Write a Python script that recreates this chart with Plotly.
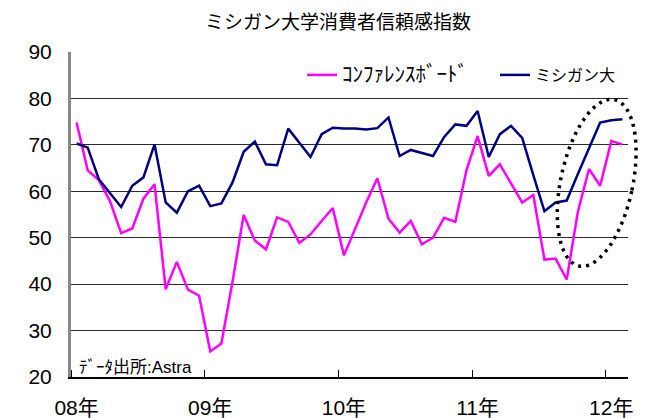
import math
import plotly.graph_objects as go

# ---- data ----
months = [f"{y}-{m:02d}" for y in range(2008, 2013) for m in range(1, 13)][:50]
conference_board = [74.8, 64.5, 62.4, 57.9, 51.0, 52.0, 58.4, 61.5, 38.9, 44.8,
                    38.8, 37.5, 25.5, 27.2, 40.5, 54.9, 49.4, 47.5, 54.4, 53.4,
                    48.9, 50.7, 53.6, 56.4, 46.2, 52.0, 57.6, 62.8, 54.1, 51.1,
                    53.6, 48.6, 50.0, 54.3, 53.4, 64.5, 71.9, 63.3, 65.8, 61.7,
                    57.6, 59.2, 45.3, 45.5, 41.0, 55.6, 64.8, 61.2, 70.8, 70.1]
michigan = [70.3, 69.4, 62.6, 59.5, 56.6, 61.2, 63.0, 70.1, 57.6, 55.4,
            60.0, 61.2, 56.8, 57.4, 61.9, 68.5, 70.7, 65.8, 65.6, 73.5,
            70.5, 67.4, 72.3, 73.7, 73.5, 73.5, 73.3, 73.6, 75.9, 67.6,
            68.9, 68.2, 67.6, 71.7, 74.4, 74.1, 77.3, 67.4, 72.3, 74.1,
            71.5, 63.5, 55.7, 57.6, 58.0, 63.7, 69.2, 74.8, 75.3, 75.5]
year_ticks = [0, 12, 24, 36, 48]
year_labels = ["08年", "09年", "10年", "11年", "12年"]
year_bounds = [-0.5, 11.5, 23.5, 35.5, 47.5]
series_names = ["ｺﾝﾌｧﾚﾝｽﾎﾞｰﾄﾞ", "ミシガン大"]

x = list(range(len(months)))
FONT = "Liberation Sans, Arial, Noto Sans CJK JP"

OFF = 8  # page body margin offset of the figure
W, H = 652 - OFF, 418 - OFF
# plot area in page pixels: left 71, right 628, top 52, bottom 377
ML, MT = 71 - OFF, 52 - OFF
MR, MB = W - (628 - OFF), H - (377 - OFF)
PW, PH = W - ML - MR, H - MT - MB


def paper_x(px):
    return (px - OFF - ML) / PW


def paper_y(py):
    return (H - MB - (py - OFF)) / PH


fig = go.Figure()
fig.add_trace(go.Scatter(x=x, y=conference_board, mode="lines",
                         name=f'<span style="font-size:21px">{series_names[0]}</span>',
                         line=dict(color="#FF00FF", width=2.5)))
fig.add_trace(go.Scatter(x=x, y=michigan, mode="lines", name=series_names[1],
                         line=dict(color="#000080", width=2.5)))

# dotted tilted ellipse highlighting the latest months (page-pixel geometry -> paper coords)
cx, cy, a, b, th = 596.7, 182.8, 85.0, 36.0, math.radians(12)
pts = []
for k in range(121):
    t = 2 * math.pi * k / 120
    ux, uy = b * math.cos(t), a * math.sin(t)
    px = cx + ux * math.cos(th) + uy * math.sin(th)
    py = cy + ux * math.sin(th) - uy * math.cos(th)
    pts.append((paper_x(px), paper_y(py)))
path = "M " + " L ".join(f"{u:.5f},{v:.5f}" for u, v in pts) + " Z"
fig.add_shape(type="path", path=path, xref="paper", yref="paper",
              line=dict(color="black", width=3.5, dash="3px,5px"))

fig.add_annotation(text="ﾃﾞｰﾀ出所:Astra", xref="paper", yref="paper",
                   x=paper_x(77), y=paper_y(367), xanchor="left", yanchor="middle",
                   showarrow=False, font=dict(family=FONT, size=17, color="black"))

fig.update_layout(
    width=W, height=H,
    margin=dict(l=ML, r=MR, t=MT, b=MB, pad=0, autoexpand=False),
    paper_bgcolor="white", plot_bgcolor="white",
    title=dict(text="ミシガン大学消費者信頼感指数", x=(338 - OFF) / W, xref="container",
               xanchor="center", y=1 - (22 - OFF) / H, yref="container", yanchor="middle",
               font=dict(family=FONT, size=19, color="black")),
    showlegend=True,
    legend=dict(orientation="h", x=paper_x(302), y=paper_y(75),
                xanchor="left", yanchor="middle", bgcolor="rgba(0,0,0,0)",
                entrywidth=148, entrywidthmode="pixels",
                font=dict(family=FONT, size=16, color="black")),
    xaxis=dict(range=[-0.5, len(months) - 0.5], tickmode="array", tickvals=year_ticks,
               ticktext=year_labels, ticks="", showgrid=False, zeroline=False,
               showline=True, linecolor="black", linewidth=2, automargin=False,
               ticklabelstandoff=11,
               tickfont=dict(family=FONT, size=21, color="black"),
               minor=dict(tickmode="array", tickvals=year_bounds, ticks="inside",
                          ticklen=7, tickwidth=1, tickcolor="black", showgrid=False)),
    yaxis=dict(range=[20, 90], dtick=10, tick0=20, showgrid=True, gridcolor="#2a2a2a",
               gridwidth=1, zeroline=False, showline=True, linecolor="#888888", linewidth=3,
               ticks="inside", ticklen=7, tickcolor="#2a2a2a", ticklabelstandoff=12,
               automargin=False,
               tickfont=dict(family=FONT, size=21, color="black")),
)

fig.write_html("out.html")
